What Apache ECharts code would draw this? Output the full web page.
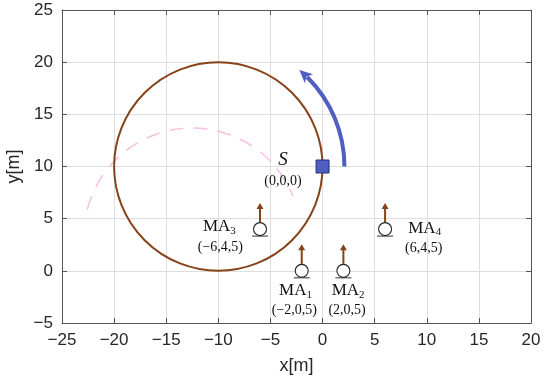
<!DOCTYPE html>
<html>
<head>
<meta charset="utf-8">
<script src="https://cdn.jsdelivr.net/npm/echarts@6/dist/echarts.min.js"></script>
<style>html,body{margin:0;padding:0;background:#fff}#c{width:550px;height:384px}</style>
</head>
<body>
<div id="c"></div>
<script>
// ---- data ----
var xTicks = [-25, -20, -15, -10, -5, 0, 5, 10, 15, 20];
var yTicks = [-5, 0, 5, 10, 15, 20, 25];
// trajectory circle: [cx, cy, r]
var trajCircle = [[-10, 10, 10]];
// faint dashed circle (background artifact): [cx, cy, r]
var faintCircle = [[-12.5, 3.3, 10.4]];
// rotation arrow: [cx, cy, r, startDeg, endDeg]
var rotArrow = [[-10, 10, 12.1, 0, 50]];
// source S position
var sourcePos = [[0, 10]];
var sourceLabel = [[-3.8, 10.6, 'S'], [-3.8, 8.6, '(0,0,0)']];
// microphone arrays: x, y
var maNames = ['1', '2', '3', '4'];
var maX = [-2, 2, -6, 6];
var maY = [0, 0, 4, 4];
var maArrowLen = [2.55, 2.55, 2.5, 2.5];
var maNamePos = [[-2.6, -1.9], [2.45, -1.9], [-9.9, 4.2], [9.8, 4.1]];
var maCoordText = ['(\u22122,0,5)', '(2,0,5)', '(\u22126,4,5)', '(6,4,5)'];
var maCoordPos = [[-2.7, -3.75], [2.35, -3.75], [-9.8, 2.3], [9.7, 2.2]];

var brown = '#86431a';
var blue = '#4f5fc1';

var maData = maX.map(function (x, i) { return [x, maY[i], maArrowLen[i]]; });
var maNameData = maNamePos.map(function (p, i) { return [p[0], p[1], maNames[i]]; });
var maCoordData = maCoordPos.map(function (p, i) { return [p[0], p[1], maCoordText[i]]; });

function minusFmt(v) { return String(v).replace('-', '\u2212'); }

var axisLineStyle = { color: '#555', width: 1 };
var chart = echarts.init(document.getElementById('c'), null, { renderer: 'canvas' });
var gridOpt = { left: 62, top: 10, width: 469, height: 313, outerBoundsMode: 'none', containLabel: false };

chart.setOption({
  animation: false,
  grid: gridOpt,
  xAxis: [{
    type: 'value', min: -25, max: 20, interval: 5,
    name: 'x[m]', nameLocation: 'middle', nameGap: 34,
    nameTextStyle: { fontFamily: 'Liberation Sans', fontSize: 18, color: '#262626' },
    axisLine: { show: true, onZero: false, lineStyle: axisLineStyle },
    axisTick: { show: true, inside: true, length: 5, lineStyle: axisLineStyle },
    axisLabel: { formatter: minusFmt, fontFamily: 'Liberation Sans', fontSize: 17, color: '#262626', margin: 9 },
    splitLine: { show: true, lineStyle: { color: '#dedede', width: 1 } }
  }, {
    type: 'value', min: -25, max: 20, interval: 5, position: 'top',
    axisLine: { show: true, onZero: false, lineStyle: axisLineStyle },
    axisTick: { show: true, inside: true, length: 5, lineStyle: axisLineStyle },
    axisLabel: { show: false }, splitLine: { show: false }
  }],
  yAxis: [{
    type: 'value', min: -5, max: 25, interval: 5,
    name: 'y[m]', nameLocation: 'middle', nameGap: 33,
    nameTextStyle: { fontFamily: 'Liberation Sans', fontSize: 18, color: '#262626' },
    axisLine: { show: true, onZero: false, lineStyle: axisLineStyle },
    axisTick: { show: true, inside: true, length: 5, lineStyle: axisLineStyle },
    axisLabel: { formatter: minusFmt, fontFamily: 'Liberation Sans', fontSize: 17, color: '#262626', margin: 9 },
    splitLine: { show: true, lineStyle: { color: '#dedede', width: 1 } }
  }, {
    type: 'value', min: -5, max: 25, interval: 5, position: 'right',
    axisLine: { show: true, onZero: false, lineStyle: axisLineStyle },
    axisTick: { show: true, inside: true, length: 5, lineStyle: axisLineStyle },
    axisLabel: { show: false }, splitLine: { show: false }
  }],
  series: [
    {
      type: 'custom', data: faintCircle, clip: true, z: 1,
      renderItem: function (params, api) {
        var c = api.coord([api.value(0), api.value(1)]);
        var r = api.size([api.value(2), 0])[0];
        return { type: 'arc', shape: { cx: c[0], cy: c[1], r: r, startAngle: -Math.PI * 0.92, endAngle: -Math.PI * 0.12, clockwise: true },
          style: { fill: null, stroke: '#f8bfe4', lineWidth: 1.5, lineDash: [14, 10] } };
      }
    },
    {
      type: 'custom', data: trajCircle, clip: true, z: 2,
      renderItem: function (params, api) {
        var c = api.coord([api.value(0), api.value(1)]);
        var r = api.size([api.value(2), 0])[0];
        return { type: 'circle', shape: { cx: c[0], cy: c[1], r: r },
          style: { fill: null, stroke: brown, lineWidth: 2 } };
      }
    },
    {
      type: 'custom', data: rotArrow, clip: false, z: 3,
      renderItem: function (params, api) {
        var c = api.coord([api.value(0), api.value(1)]);
        var r = api.size([api.value(2), 0])[0];
        var a0 = api.value(3) * Math.PI / 180, a1 = api.value(4) * Math.PI / 180;
        var headLen = 13, headW = 12;
        var aEnd = a1 - headLen / r; // arc stops where the head begins
        var ex = c[0] + r * Math.cos(aEnd), ey = c[1] - r * Math.sin(aEnd);
        var tx = c[0] + r * Math.cos(a1), ty = c[1] - r * Math.sin(a1);
        var dx = tx - ex, dy = ty - ey, L = Math.sqrt(dx * dx + dy * dy);
        var nx = -dy / L, ny = dx / L;
        return { type: 'group', children: [
          { type: 'arc', shape: { cx: c[0], cy: c[1], r: r, startAngle: -aEnd - 0.02, endAngle: -a0, clockwise: true },
            style: { fill: null, stroke: blue, lineWidth: 4 } },
          { type: 'polygon', shape: { points: [[tx, ty], [ex + nx * headW / 2, ey + ny * headW / 2], [ex + dx * 0.25, ey + dy * 0.25], [ex - nx * headW / 2, ey - ny * headW / 2]] },
            style: { fill: blue } }
        ] };
      }
    },
    {
      type: 'scatter', data: sourcePos, symbol: 'rect', symbolSize: 13, z: 5,
      itemStyle: { color: blue, borderColor: '#26307a', borderWidth: 1, opacity: 1 }
    },
    {
      type: 'custom', data: sourceLabel, clip: false, z: 6,
      renderItem: function (params, api) {
        var c = api.coord([api.value(0), api.value(1)]);
        var t = api.value(2);
        var isS = t === 'S';
        return { type: 'text', x: c[0], y: c[1], style: { text: t, align: 'center', verticalAlign: 'middle',
          font: (isS ? 'italic 19px ' : '14px ') + '"Liberation Serif"', fill: '#111' } };
      }
    },
    {
      type: 'custom', data: maData, clip: false, z: 7,
      renderItem: function (params, api) {
        var c = api.coord([api.value(0), api.value(1)]);
        var tip = api.coord([api.value(0), api.value(1) + api.value(2)]);
        var R = 6.5;
        return { type: 'group', children: [
          { type: 'line', shape: { x1: c[0], y1: c[1] - R, x2: c[0], y2: tip[1] + 5 }, style: { stroke: brown, lineWidth: 2 } },
          { type: 'polygon', shape: { points: [[c[0], tip[1]], [c[0] - 3.5, tip[1] + 6], [c[0] + 3.5, tip[1] + 6]] }, style: { fill: brown } },
          { type: 'circle', shape: { cx: c[0], cy: c[1], r: R }, style: { fill: '#fff', stroke: '#222', lineWidth: 1.1 } },
          { type: 'line', shape: { x1: c[0] - 8, y1: c[1] + R + 0.5, x2: c[0] + 8, y2: c[1] + R + 0.5 }, style: { stroke: '#333', lineWidth: 1 } }
        ] };
      }
    },
    {
      type: 'custom', data: maNameData, clip: false, z: 8,
      renderItem: function (params, api) {
        var c = api.coord([api.value(0), api.value(1)]);
        return { type: 'text', x: c[0], y: c[1], style: {
          text: 'MA{s|' + api.value(2) + '}', align: 'center', verticalAlign: 'middle',
          font: '17px "Liberation Serif"', fill: '#111',
          rich: { s: { font: '11px "Liberation Serif"', fill: '#111', verticalAlign: 'bottom', padding: [8, 0, 0, 0] } } } };
      }
    },
    {
      type: 'custom', data: maCoordData, clip: false, z: 8,
      renderItem: function (params, api) {
        var c = api.coord([api.value(0), api.value(1)]);
        return { type: 'text', x: c[0], y: c[1], style: { text: api.value(2), align: 'center', verticalAlign: 'middle',
          font: '14px "Liberation Serif"', fill: '#111' } };
      }
    }
  ]
});
</script>
</body>
</html>
